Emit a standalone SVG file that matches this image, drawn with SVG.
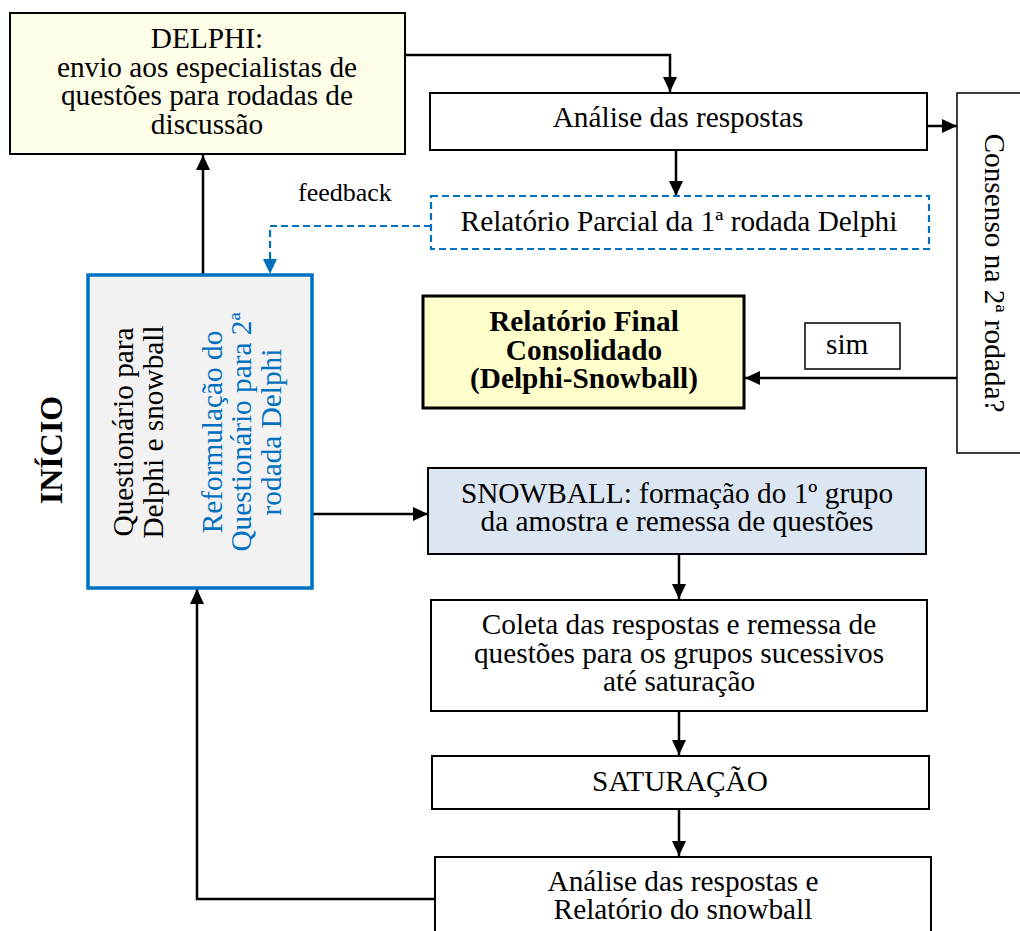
<svg xmlns="http://www.w3.org/2000/svg" width="1020" height="931" viewBox="0 0 1020 931">
<style>
text{font-family:"Liberation Serif","Times New Roman",serif;font-size:29.3px;fill:#000}
.c{text-anchor:middle}
.b{font-weight:bold}
.blue{fill:#0070C0}
.box{stroke:#000;stroke-width:2}
.con{fill:none;stroke:#000;stroke-width:2.5}
.dash{fill:none;stroke:#0070C0;stroke-width:2.2;stroke-dasharray:7,4}
</style>
<defs>
<marker id="ah" markerUnits="userSpaceOnUse" markerWidth="16" markerHeight="14" refX="15" refY="7" orient="auto"><path d="M0,0 L15,7 L0,14 z" fill="#000"/></marker>
<marker id="ahb" markerUnits="userSpaceOnUse" markerWidth="16" markerHeight="14" refX="15" refY="7" orient="auto"><path d="M0,0 L15,7 L0,14 z" fill="#0070C0"/></marker>
</defs>
<rect width="1020" height="931" fill="#fff"/>

<g id="connectors">
<path class="con" d="M405,55 H670 V92" marker-end="url(#ah)"/>
<path class="con" d="M676,150 V196" marker-end="url(#ah)"/>
<path class="con" d="M927,126 H957" marker-end="url(#ah)"/>
<path class="con" d="M957,378 H745" marker-end="url(#ah)"/>
<path class="con" d="M203,275 V155" marker-end="url(#ah)"/>
<path class="dash" d="M431,226 H270 V274" marker-end="url(#ahb)"/>
<path class="con" d="M312,514 H428" marker-end="url(#ah)"/>
<path class="con" d="M679,554 V599" marker-end="url(#ah)"/>
<path class="con" d="M679,711 V755" marker-end="url(#ah)"/>
<path class="con" d="M679,809 V856" marker-end="url(#ah)"/>
<path class="con" d="M435,899 H197 V589" marker-end="url(#ah)"/>
</g>

<text x="298" y="201" style="font-size:26px">feedback</text>

<g id="delphi">
<rect class="box" x="10" y="13" width="395" height="141" fill="#FEFDE8"/>
<text class="c" x="207" y="48">DELPHI:</text>
<text class="c" x="207" y="77">envio aos especialistas de</text>
<text class="c" x="207" y="105">questões para rodadas de</text>
<text class="c" x="207" y="134">discussão</text>
</g>

<g id="analise">
<rect class="box" x="430" y="93" width="497" height="57" fill="#fff"/>
<text class="c" x="678" y="127">Análise das respostas</text>
</g>

<g id="parcial">
<rect class="dash" x="431" y="196" width="498" height="53" fill="#fff"/>
<text class="c" x="679" y="231">Relatório Parcial da 1ª rodada Delphi</text>
</g>

<g id="consenso">
<rect x="957" y="93" width="70" height="360" fill="#fff" stroke="#000" stroke-width="1.5"/>
<text class="c" transform="translate(985,273) rotate(90)">Consenso na 2ª rodada?</text>
</g>

<g id="final">
<rect x="423" y="296" width="321" height="112" fill="#FFFFCC" stroke="#000" stroke-width="3"/>
<text class="c b" x="584" y="331">Relatório Final</text>
<text class="c b" x="584" y="360">Consolidado</text>
<text class="c b" x="584" y="388">(Delphi-Snowball)</text>
</g>

<g id="sim">
<rect x="805" y="323" width="95" height="46" fill="#fff" stroke="#000" stroke-width="1.5"/>
<text x="826" y="354">sim</text>
</g>

<g id="inicio">
<text class="c b" transform="translate(62,450) rotate(-90)" style="font-size:32px">INÍCIO</text>
</g>

<g id="questionario">
<rect x="88" y="275" width="224" height="313" fill="#F2F2F2" stroke="#0070C0" stroke-width="3.5"/>
<text class="c" transform="translate(133,432) rotate(-90)">Questionário para</text>
<text class="c" transform="translate(163,432) rotate(-90)">Delphi e snowball</text>
<text class="c blue" transform="translate(222,432) rotate(-90)">Reformulação do</text>
<text class="c blue" transform="translate(251,432) rotate(-90)">Questionário para 2ª</text>
<text class="c blue" transform="translate(281,432) rotate(-90)">rodada Delphi</text>
</g>

<g id="snowball">
<rect class="box" x="428" y="468" width="498" height="86" fill="#DCE6F2"/>
<text class="c" x="677" y="503">SNOWBALL: formação do 1º grupo</text>
<text class="c" x="677" y="531">da amostra e remessa de questões</text>
</g>

<g id="coleta">
<rect class="box" x="431" y="600" width="496" height="111" fill="#fff"/>
<text class="c" x="679" y="634">Coleta das respostas e remessa de</text>
<text class="c" x="679" y="663">questões para os grupos sucessivos</text>
<text class="c" x="679" y="691">até saturação</text>
</g>

<g id="saturacao">
<rect class="box" x="432" y="756" width="497" height="53" fill="#fff"/>
<text class="c" x="680" y="791">SATURAÇÃO</text>
</g>

<g id="relatorio-snowball">
<rect class="box" x="435" y="857" width="496" height="90" fill="#fff"/>
<text class="c" x="683" y="891">Análise das respostas e</text>
<text class="c" x="683" y="919">Relatório do snowball</text>
</g>
</svg>
